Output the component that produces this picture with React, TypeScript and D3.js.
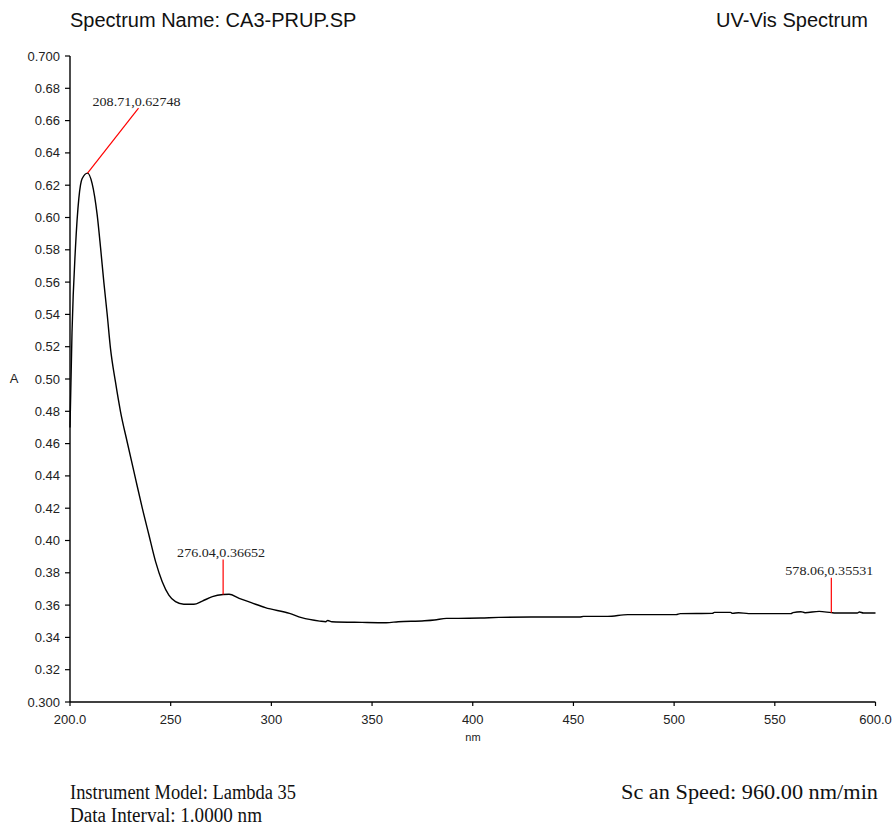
import React from "react";
import * as d3 from "d3";

// ---- data ----
const wavelengthNm = [
  200, 201, 202.7, 204.4, 206, 208.71, 211, 213.5, 215.2, 216.8, 218.5, 220.1,
  222.6, 225.1, 228.4, 232.5, 235.9, 239.2, 242.5, 245.8, 249.1, 252.4, 256.5,
  261.5, 265.7, 270.7, 276.04, 279, 284, 290, 297, 309, 315, 324, 327, 328, 330,
  345, 357, 363, 376, 381, 387, 393, 404, 413, 429, 453, 455, 467, 477, 501, 503,
  519, 520, 528, 529, 532, 537, 542, 558, 559, 563, 565, 572, 578.06, 580, 591,
  592, 594, 600,
];
const absorbance = [
  0.47, 0.529, 0.581, 0.612, 0.624, 0.62748, 0.621, 0.6016, 0.581, 0.56, 0.5396,
  0.519, 0.498, 0.4797, 0.461, 0.4385, 0.42, 0.4034, 0.3869, 0.3745, 0.3662,
  0.3621, 0.3605, 0.3605, 0.3625, 0.3652, 0.36652, 0.3667, 0.3642, 0.3615,
  0.3584, 0.3549, 0.3522, 0.3501, 0.3497, 0.3505, 0.3497, 0.3493, 0.3491,
  0.3497, 0.3503, 0.3508, 0.3518, 0.3518, 0.352, 0.3524, 0.3526, 0.3526, 0.353,
  0.353, 0.3541, 0.3541, 0.3547, 0.3549, 0.3555, 0.3555, 0.3549, 0.3553,
  0.3547, 0.3547, 0.3547, 0.3553, 0.3559, 0.3553, 0.3561, 0.35531, 0.3551,
  0.3551, 0.3557, 0.3551, 0.3551,
];

const xTickValues = [200, 250, 300, 350, 400, 450, 500, 550, 600];
const xTickLabels = ["200.0", "250", "300", "350", "400", "450", "500", "550", "600.0"];
const yTickValues = [0.3, 0.32, 0.34, 0.36, 0.38, 0.4, 0.42, 0.44, 0.46, 0.48, 0.5, 0.52, 0.54, 0.56, 0.58, 0.6, 0.62, 0.64, 0.66, 0.68, 0.7];
const yTickLabels = ["0.300", "0.32", "0.34", "0.36", "0.38", "0.40", "0.42", "0.44", "0.46", "0.48", "0.50", "0.52", "0.54", "0.56", "0.58", "0.60", "0.62", "0.64", "0.66", "0.68", "0.700"];

const peakNm = [208.71, 276.04, 578.06];
const peakAbs = [0.62748, 0.36652, 0.35531];
const peakLabels = ["208.71,0.62748", "276.04,0.36652", "578.06,0.35531"];

const titleLeft = "Spectrum Name: CA3-PRUP.SP";
const titleRight = "UV-Vis Spectrum";
const xAxisTitle = "nm";
const yAxisTitle = "A";
const footerLines = ["Instrument Model: Lambda 35", "Data Interval: 1.0000 nm", "Sc an Speed: 960.00 nm/min"];

export default function App() {
  const W = 895;
  const H = 829;
  const x = d3.scaleLinear().domain([200, 600]).range([70, 875.5]);
  const y = d3.scaleLinear().domain([0.3, 0.7]).range([702, 56]);
  const pts: [number, number][] = wavelengthNm.map((w, i) => [w, absorbance[i]]);
  const line = d3
    .line<[number, number]>()
    .x((d) => x(d[0]))
    .y((d) => y(d[1]))
    .curve(d3.curveMonotoneX);

  const sans = "'Liberation Sans', Arial, sans-serif";
  const serif = "'Liberation Serif', 'Times New Roman', serif";
  const leaderOffsets: [number, number][] = [
    [51, -65],
    [0, -35],
    [0, -35],
  ];

  return (
    <svg
      width={W}
      height={H}
      style={{ position: "absolute", left: 0, top: 0, background: "#fff" }}
    >
      <rect x={0} y={0} width={W} height={H} fill="#fff" />
      {/* titles */}
      <text x={70} y={27} fontFamily={sans} fontSize={20} fill="#111">
        {titleLeft}
      </text>
      <text x={868} y={27} fontFamily={sans} fontSize={20} fill="#111" textAnchor="end">
        {titleRight}
      </text>

      {/* y axis */}
      <line x1={70} x2={70} y1={y(0.7)} y2={y(0.3)} stroke="#000" strokeWidth={1.4} />
      {yTickValues.map((v, i) => (
        <g key={"y" + i}>
          <line x1={65} x2={70} y1={y(v)} y2={y(v)} stroke="#000" strokeWidth={1.2} />
          <text
            x={60}
            y={y(v)}
            dy="0.35em"
            textAnchor="end"
            fontFamily={sans}
            fontSize={13}
            fill="#222"
          >
            {yTickLabels[i]}
          </text>
        </g>
      ))}
      <text x={14} y={378} dy="0.35em" textAnchor="middle" fontFamily={sans} fontSize={13} fill="#222">
        {yAxisTitle}
      </text>

      {/* x axis */}
      <line x1={x(200)} x2={x(600)} y1={702} y2={702} stroke="#000" strokeWidth={1.4} />
      {xTickValues.map((v, i) => (
        <g key={"x" + i}>
          <line x1={x(v)} x2={x(v)} y1={702} y2={706} stroke="#000" strokeWidth={1.2} />
          <text
            x={x(v)}
            y={724}
            textAnchor="middle"
            fontFamily={sans}
            fontSize={13}
            fill="#222"
          >
            {xTickLabels[i]}
          </text>
        </g>
      ))}
      <text x={473} y={741} textAnchor="middle" fontFamily={sans} fontSize={11} fill="#222">
        {xAxisTitle}
      </text>

      {/* spectrum */}
      <path d={line(pts) || ""} fill="none" stroke="#000" strokeWidth={1.4} />

      {/* peak annotations */}
      {peakNm.map((w, i) => {
        const px = x(w);
        const py = y(peakAbs[i]);
        const [dx, dy] = leaderOffsets[i];
        return (
          <g key={"p" + i}>
            <line x1={px} y1={py} x2={px + dx} y2={py + dy} stroke="#ff0000" strokeWidth={1.2} />
            <text
              x={px + dx - 2}
              y={py + dy - 2.5}
              textAnchor="middle"
              fontFamily={serif}
              fontSize={12.5}
              textLength={88}
              lengthAdjust="spacingAndGlyphs"
              fill="#222"
            >
              {peakLabels[i]}
            </text>
          </g>
        );
      })}

      {/* footer */}
      <text x={70} y={799} fontFamily={serif} fontSize={20} fill="#111" textLength={226} lengthAdjust="spacingAndGlyphs">
        {footerLines[0]}
      </text>
      <text x={70} y={822} fontFamily={serif} fontSize={20} fill="#111" textLength={192} lengthAdjust="spacingAndGlyphs">
        {footerLines[1]}
      </text>
      <text x={621} y={799} fontFamily={serif} fontSize={20} fill="#111" textLength={257} lengthAdjust="spacingAndGlyphs" style={{ transform: "none" }}>
        {footerLines[2]}
      </text>
    </svg>
  );
}
